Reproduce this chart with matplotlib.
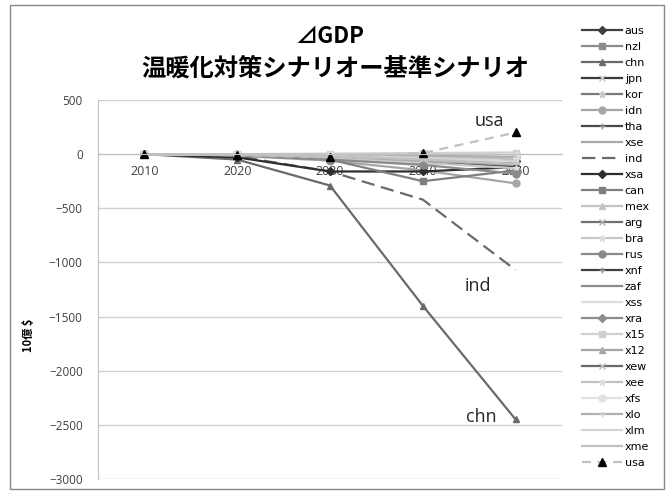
import matplotlib
matplotlib.use("Agg")
import matplotlib.pyplot as plt
from matplotlib.patches import Rectangle

plt.rcParams['font.family'] = ['Noto Sans CJK JP', 'DejaVu Sans']

# data: change in GDP (billion $), mitigation scenario minus baseline
years = ['2010', '2020', '2030', '2040', '2050']
aus = [0, -5, -20, -40, -60]
nzl = [0, -2, -5, -8, -10]
chn = [0, -50, -290, -1400, -2450]
jpn = [0, -10, -40, -80, -110]
kor = [0, -5, -25, -50, -80]
idn = [0, -15, -60, -150, -270]
tha = [0, -5, -20, -50, -70]
xse = [0, -5, -25, -60, -100]
ind = [0, -20, -160, -420, -1070]
xsa = [0, -30, -160, -160, -120]
can = [0, -10, -50, -250, -150]
mex = [0, -5, -20, -40, -60]
arg = [0, -3, -10, -20, -30]
bra = [0, -10, -40, -80, -130]
rus = [0, -10, -50, -100, -180]
xnf = [0, -3, -10, -20, -40]
zaf = [0, -2, -8, -15, -25]
xss = [0, -5, -20, -40, -70]
xra = [0, -3, -10, -20, -30]
x15 = [0, 0, 5, 10, 15]
x12 = [0, -2, -5, -10, -20]
xew = [0, -5, -15, -30, -50]
xee = [0, -3, -10, -25, -40]
xfs = [0, -2, -5, -10, -15]
xlo = [0, -3, -8, -15, -25]
xlm = [0, -5, -15, -35, -60]
xme = [0, -5, -20, -50, -90]
usa = [0, -10, -30, 10, 200]

regions = ['aus', 'nzl', 'chn', 'jpn', 'kor', 'idn', 'tha', 'xse', 'ind', 'xsa',
           'can', 'mex', 'arg', 'bra', 'rus', 'xnf', 'zaf', 'xss', 'xra', 'x15',
           'x12', 'xew', 'xee', 'xfs', 'xlo', 'xlm', 'xme', 'usa']
values = [aus, nzl, chn, jpn, kor, idn, tha, xse, ind, xsa,
          can, mex, arg, bra, rus, xnf, zaf, xss, xra, x15,
          x12, xew, xee, xfs, xlo, xlm, xme, usa]

# line colour, marker, marker colour
styles = {
    'aus': ('#404040', 'D', '#404040'),
    'nzl': ('#8c8c8c', 's', '#8c8c8c'),
    'chn': ('#6a6a6a', '^', '#6a6a6a'),
    'jpn': ('#3a3a3a', 'x', '#c8c8c8'),
    'kor': ('#7a7a7a', '*', '#c8c8c8'),
    'idn': ('#a6a6a6', 'o', '#a6a6a6'),
    'tha': ('#484848', '+', '#909090'),
    'xse': ('#a8a8a8', None, None),
    'ind': ('#6a6a6a', None, None),
    'xsa': ('#2e2e2e', 'D', '#2e2e2e'),
    'can': ('#7f7f7f', 's', '#7f7f7f'),
    'mex': ('#c4c4c4', '^', '#c4c4c4'),
    'arg': ('#707070', 'x', '#b0b0b0'),
    'bra': ('#c8c8c8', '*', '#dddddd'),
    'rus': ('#8a8a8a', 'o', '#8a8a8a'),
    'xnf': ('#404040', '+', '#909090'),
    'zaf': ('#8c8c8c', None, None),
    'xss': ('#dcdcdc', None, None),
    'xra': ('#8c8c8c', 'D', '#8c8c8c'),
    'x15': ('#d0d0d0', 's', '#d0d0d0'),
    'x12': ('#a6a6a6', '^', '#a6a6a6'),
    'xew': ('#6a6a6a', 'x', '#c0c0c0'),
    'xee': ('#c0c0c0', '*', '#dddddd'),
    'xfs': ('#e2e2e2', 'o', '#e2e2e2'),
    'xlo': ('#b0b0b0', '+', '#d0d0d0'),
    'xlm': ('#d4d4d4', None, None),
    'xme': ('#c0c0c0', None, None),
    'usa': ('#c0c0c0', '^', '#000000'),
}

fig = plt.figure(figsize=(6.7, 4.91), dpi=100)
ax = fig.add_axes([98/670, 1-479/491, 464/670, 379/491])

xs = range(len(years))
for name, vals in zip(regions, values):
    lc, mk, mc = styles[name]
    kw = dict(color=lc, lw=1.6, marker=mk, markersize=5,
              markerfacecolor=mc, markeredgecolor=mc, label=name)
    if name == 'ind':
        kw['dashes'] = (6, 3, 6, 3)
    if name == 'usa':
        kw['dashes'] = (4, 3)
        kw['markersize'] = 6
    if mk in ('D',):
        kw['markersize'] = 4
    ax.plot(xs, vals, **kw)

ax.set_xlim(-0.5, len(years) - 0.5)
ax.set_ylim(-3000, 500)
ax.set_yticks(range(-3000, 501, 500))
ax.grid(axis='y', color='#d0d0d0', lw=1)
ax.set_axisbelow(True)

for s in ('top', 'right'):
    ax.spines[s].set_visible(False)
ax.spines['left'].set_color('#c0c0c0')
ax.spines['bottom'].set_position(('data', 0))
ax.spines['bottom'].set_color('#c0c0c0')
ax.set_xticks(list(xs))
ax.set_xticklabels(years, family=['Open Sans', 'DejaVu Sans'])
ax.tick_params(axis='x', length=0, pad=8, labelsize=9, labelcolor='#404040')
ax.tick_params(axis='y', length=0, pad=11, labelsize=8.5, labelcolor='#404040')
for t in ax.get_yticklabels():
    t.set_family(['Open Sans', 'DejaVu Sans'])

ax.set_ylabel('10億 $', fontsize=8, fontweight='bold')
ax.yaxis.set_label_coords(-0.135, 0.38)

# region labels next to the lines
ax.text(3.72, 310, 'usa', fontsize=13, ha='center', va='center', color='#262626',
        family=['Open Sans', 'DejaVu Sans'])
ax.text(3.59, -1215, 'ind', fontsize=13, ha='center', va='center', color='#262626',
        family=['Open Sans', 'DejaVu Sans'])
ax.text(3.63, -2430, 'chn', fontsize=13, ha='center', va='center', color='#262626',
        family=['Open Sans', 'DejaVu Sans'])

fig.text(330/670, 1-36/491, '⊿GDP', fontsize=16, fontweight='bold',
         ha='center', va='center', family=['Noto Sans CJK JP', 'DejaVu Sans'])
fig.text(335/670, 1-69/491, '温暖化対策シナリオー基準シナリオ', fontsize=17.5,
         fontweight='bold', ha='center', va='center')

fig.legend(loc='upper left', bbox_to_anchor=(582/670, 1-26/491), frameon=False,
           labelspacing=0.54, handlelength=3.6, handletextpad=0.25,
           borderpad=0, borderaxespad=0,
           prop={'family': ['Liberation Sans Narrow', 'DejaVu Sans'], 'size': 8})

fig.patches.append(Rectangle((10/670, 2/491), 654/670, 484/491, transform=fig.transFigure,
                             fill=False, edgecolor='#888888', lw=1))

fig.savefig('out.png', dpi=100)
